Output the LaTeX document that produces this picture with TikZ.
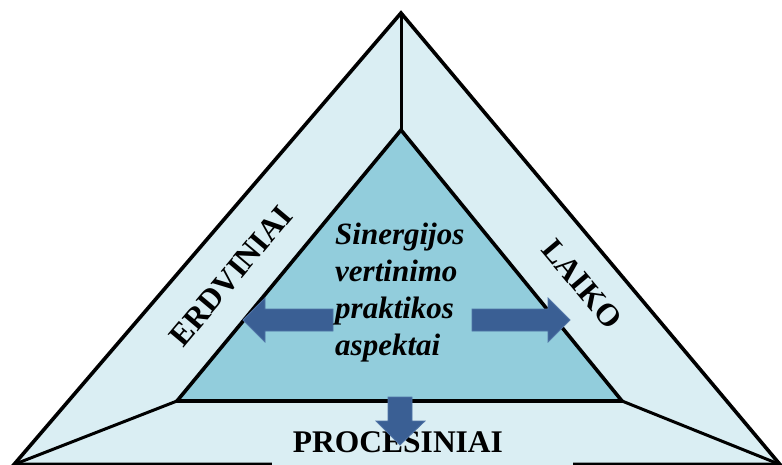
\documentclass[tikz,border=0pt]{standalone}
\usepackage{fontspec}
\setmainfont{Liberation Serif}
\definecolor{outerfill}{HTML}{DAEEF3}
\definecolor{innerfill}{HTML}{92CDDC}
\definecolor{arrowfill}{RGB}{58,95,148}
\definecolor{arrowedge}{RGB}{80,116,166}
\begin{document}
\begin{tikzpicture}[x=1pt,y=-1pt,
  edge/.style={line width=3.6pt, line join=miter},
  spoke/.style={line width=3pt},
  bandlabel/.style={font=\bfseries\fontsize{31.5}{36}\selectfont, inner sep=0pt},
  fatarrow/.style={fill=arrowfill, draw=arrowedge, line width=0.8pt}]
\useasboundingbox (0,0) rectangle (782,465);
\coordinate (OA) at (401,13);
\coordinate (OL) at (14,464.5);
\coordinate (OR) at (780,464.5);
\coordinate (IA) at (401,130);
\coordinate (IL) at (177,401);
\coordinate (IR) at (622,401);
\filldraw[edge, fill=outerfill] (OA) -- (OL) -- (OR) -- cycle;
\draw[spoke] (OA) -- (IA);
\draw[spoke] (OL) -- (IL);
\draw[spoke] (OR) -- (IR);
\filldraw[edge, fill=innerfill] (IA) -- (IL) -- (IR) -- cycle;
\fill[outerfill] (272,430) rectangle (573,470);
\node[bandlabel, anchor=base] (proc) at (398,452) {PROCESINIAI};
\node[bandlabel, rotate=50] (erd) at (231,276) {ERDVINIAI};
\node[bandlabel, rotate=-50] (laiko) at (582,284) {LAIKO};
\draw[fatarrow] (333,309) -- (265,309) -- (265,298) -- (243,320) -- (265,342) -- (265,331) -- (333,331) -- cycle;
\draw[fatarrow] (472,309) -- (548,309) -- (548,298) -- (570,320) -- (548,342) -- (548,331) -- (472,331) -- cycle;
\draw[fatarrow] (388,397) -- (412,397) -- (412,421) -- (425,421) -- (400,445) -- (376,421) -- (388,421) -- cycle;
\node[anchor=north west, align=left, inner sep=0pt,
  font=\bfseries\itshape\fontsize{31}{37}\selectfont] (main) at (335,222.5)
  {Sinergijos\\vertinimo\\praktikos\\aspektai};
\end{tikzpicture}
\end{document}
